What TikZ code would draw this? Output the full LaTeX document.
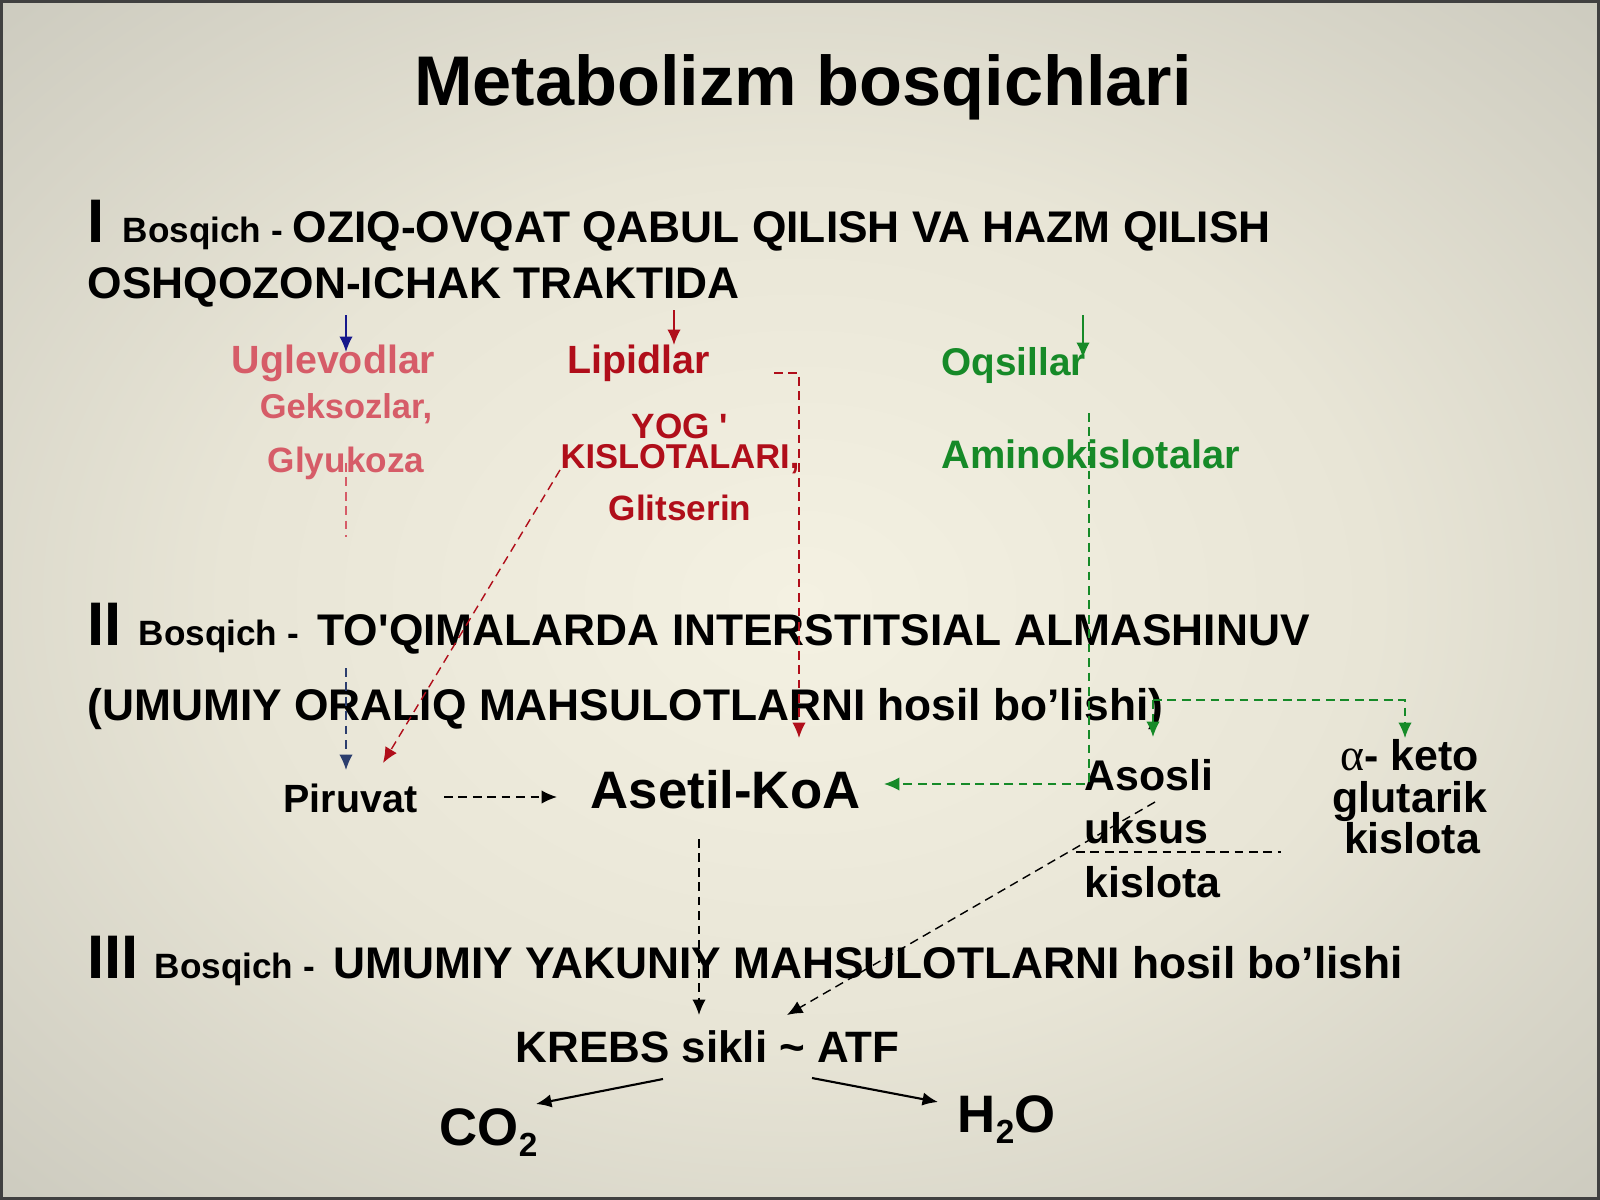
\documentclass[tikz,border=0pt]{standalone}
\usepackage{fontspec}
\setmainfont{Liberation Sans}
\newfontfamily\greekfont{Liberation Serif}
\usetikzlibrary{shapes,arrows,arrows.meta,positioning}
\definecolor{carbred}{RGB}{214,92,104}
\definecolor{lipred}{RGB}{176,14,26}
\definecolor{protgreen}{RGB}{22,138,40}
\definecolor{carbblue}{RGB}{22,24,140}
\definecolor{slateblue}{RGB}{44,62,110}
\definecolor{bgA}{RGB}{244,241,226}
\definecolor{bgB}{RGB}{232,229,214}
\definecolor{bgC}{RGB}{188,187,177}
\definecolor{bgD}{RGB}{138,137,128}
\pgfdeclareradialshading{slidebg}{\pgfpoint{0bp}{0bp}}{color(0bp)=(bgA); color(18bp)=(bgB); color(46bp)=(bgC); color(72bp)=(bgD)}
\newcommand{\fsz}[1]{\fontsize{#1}{#1}\selectfont}
\newcommand{\subtwo}{\raisebox{-3.2pt}{\fsz{9.5}2}}
\tikzstyle{txt} = [inner sep=0pt, anchor=base west]
\tikzstyle{line} = [draw, line width=0.45pt, -{Latex[length=4.4pt,width=3.8pt]}]
\tikzstyle{dline} = [draw, line width=0.4pt, dash pattern=on 2.5pt off 1.6pt, -{Latex[length=4.4pt,width=3.8pt]}]
\tikzstyle{dplain} = [draw, line width=0.4pt, dash pattern=on 2.5pt off 1.6pt]
\begin{document}
\begin{tikzpicture}[x=0.01cm, y=-0.01cm]
    \useasboundingbox (0,0) rectangle (1600,1200);
    \shade[shading=slidebg] (0,0) rectangle (1600,1200);
    \draw[line width=1.2pt, black!75] (1,1) rectangle (1599,1199);
    % Title and stages
    \node [txt, anchor=base, font=\bfseries\fsz{20}] (title) at (803,105) {Metabolizm bosqichlari};
    \node [txt, font=\bfseries\fsz{17.5}] (num1) at (87,242) {I};
    \node [txt, font=\bfseries\fsz{10}] (bsq1) at (122,242) {Bosqich -};
    \node [txt, font=\bfseries\fsz{12.6}] (stage1) at (292,242) {OZIQ-OVQAT QABUL QILISH VA HAZM QILISH};
    \node [txt, font=\bfseries\fsz{12.6}] (stage1b) at (87,298) {OSHQOZON-ICHAK TRAKTIDA};
    \node [txt, font=\bfseries\fsz{17.5}] (num2) at (87,645) {II};
    \node [txt, font=\bfseries\fsz{10}] (bsq2) at (138,645) {Bosqich -};
    \node [txt, font=\bfseries\fsz{12.6}] (stage2) at (317,645) {TO\textquotesingle QIMALARDA INTERSTITSIAL ALMASHINUV};
    \node [txt, font=\bfseries\fsz{12.6}] (stage2b) at (87,720) {(UMUMIY ORALIQ MAHSULOTLARNI hosil bo’lishi)};
    \node [txt, font=\bfseries\fsz{17.5}] (num3) at (87,978) {III};
    \node [txt, font=\bfseries\fsz{10}] (bsq3) at (154,978) {Bosqich -};
    \node [txt, font=\bfseries\fsz{12.6}] (stage3) at (333,978) {UMUMIY YAKUNIY MAHSULOTLARNI hosil bo’lishi};
    % Nutrients
    \node [txt, font=\bfseries\fsz{11.2}, text=carbred] (carbs) at (231,373) {Uglevodlar};
    \node [txt, anchor=base, font=\bfseries\fsz{9.8}, text=carbred] (hexoses) at (346,418) {Geksozlar,};
    \node [txt, anchor=base, font=\bfseries\fsz{10}, text=carbred] (glucose) at (346,472) {Glyukoza};
    \node [txt, font=\bfseries\fsz{11.2}, text=lipred] (lipids) at (567,373) {Lipidlar};
    \node [txt, anchor=base, font=\bfseries\fsz{10}, text=lipred] (fatty) at (680,438) {YOG \textquotesingle};
    \node [txt, anchor=base, font=\bfseries\fsz{9.8}, text=lipred] (acids) at (680,468) {KISLOTALARI,};
    \node [txt, anchor=base, font=\bfseries\fsz{10}, text=lipred] (glycerol) at (680,520) {Glitserin};
    \node [txt, font=\bfseries\fsz{11}, text=protgreen] (proteins) at (941,375) {Oqsillar};
    \node [txt, font=\bfseries\fsz{11.3}, text=protgreen] (aminos) at (941,468) {Aminokislotalar};
    % Intermediates
    \node [txt, font=\bfseries\fsz{11.2}] (pyruvate) at (283,812) {Piruvat};
    \node [txt, font=\bfseries\fsz{15}] (acetyl) at (590,808) {Asetil-KoA};
    \node [txt, font=\bfseries\fsz{12.2}] (acetic1) at (1084,790) {Asosli};
    \node [txt, font=\bfseries\fsz{12.2}] (acetic2) at (1084,843) {uksus};
    \node [txt, font=\bfseries\fsz{12.2}] (acetic3) at (1084,897) {kislota};
    \node [txt, anchor=base, font=\bfseries\fsz{12.2}] (keto1) at (1410,770) {{\greekfont\mdseries\fsz{13}α}- keto};
    \node [txt, anchor=base, font=\bfseries\fsz{12.2}] (keto2) at (1410,812) {glutarik};
    \node [txt, anchor=base, font=\bfseries\fsz{12.2}] (keto3) at (1412,853) {kislota};
    % Final products
    \node [txt, font=\bfseries\fsz{12.5}] (krebs) at (515,1062) {KREBS sikli \textasciitilde{} ATF};
    \node [txt, font=\bfseries\fsz{15}] (co2) at (439,1145) {CO\subtwo};
    \node [txt, font=\bfseries\fsz{15}] (h2o) at (957,1132) {H\subtwo O};
    % Connector ends
    \coordinate (carb top) at (346,315);
    \coordinate (carb tip) at (346,352);
    \coordinate (lip top) at (674,310);
    \coordinate (lip tip) at (674,345);
    \coordinate (prot top) at (1083,315);
    \coordinate (prot tip) at (1083,358);
    \coordinate (gluc end) at (346,537);
    \coordinate (lip side) at (774,373);
    \coordinate (lip down) at (799,738);
    \coordinate (acid start) at (560,470);
    \coordinate (acid tip) at (383,763);
    \coordinate (glyc top) at (346,668);
    \coordinate (glyc tip) at (346,770);
    \coordinate (pyr out) at (444,797);
    \coordinate (acet in) at (557,797);
    \coordinate (amino top) at (1089,413);
    \coordinate (acet right) at (884,784);
    \coordinate (split) at (1153,700);
    \coordinate (acetic tip) at (1153,737);
    \coordinate (keto tip) at (1405,738);
    \coordinate (frac left) at (1076,852);
    \coordinate (frac right) at (1281,852);
    \coordinate (acet out) at (699,839);
    \coordinate (krebs tip) at (699,1015);
    \coordinate (acetic out) at (1155,802);
    \coordinate (krebs tip2) at (787,1015);
    \coordinate (krebs left) at (663,1079);
    \coordinate (co2 tip) at (536,1104);
    \coordinate (krebs right) at (812,1078);
    \coordinate (h2o tip) at (938,1102);
    % Draw edges
    \path [line, carbblue] (carb top) -- (carb tip);
    \path [line, lipred] (lip top) -- (lip tip);
    \path [line, protgreen] (prot top) -- (prot tip);
    \path [dplain, carbred] (gluc end |- glucose.center) -- (gluc end);
    \path [dline, lipred] (lip side) -| (lip down);
    \path [dline, lipred] (acid start) -- (acid tip);
    \path [dline, slateblue] (glyc top) -- (glyc tip);
    \path [dline] (pyr out) -- (acet in);
    \path [dline, protgreen] (amino top) |- (acet right);
    \path [dline, protgreen] (split) -- (acetic tip);
    \path [dline, protgreen] (split) -| (keto tip);
    \path [dplain] (frac left) -- (frac right);
    \path [dline] (acet out) -- (krebs tip);
    \path [dline] (acetic out) -- (krebs tip2);
    \path [line, line width=0.6pt] (krebs left) -- (co2 tip);
    \path [line, line width=0.6pt] (krebs right) -- (h2o tip);
\end{tikzpicture}
\end{document}
